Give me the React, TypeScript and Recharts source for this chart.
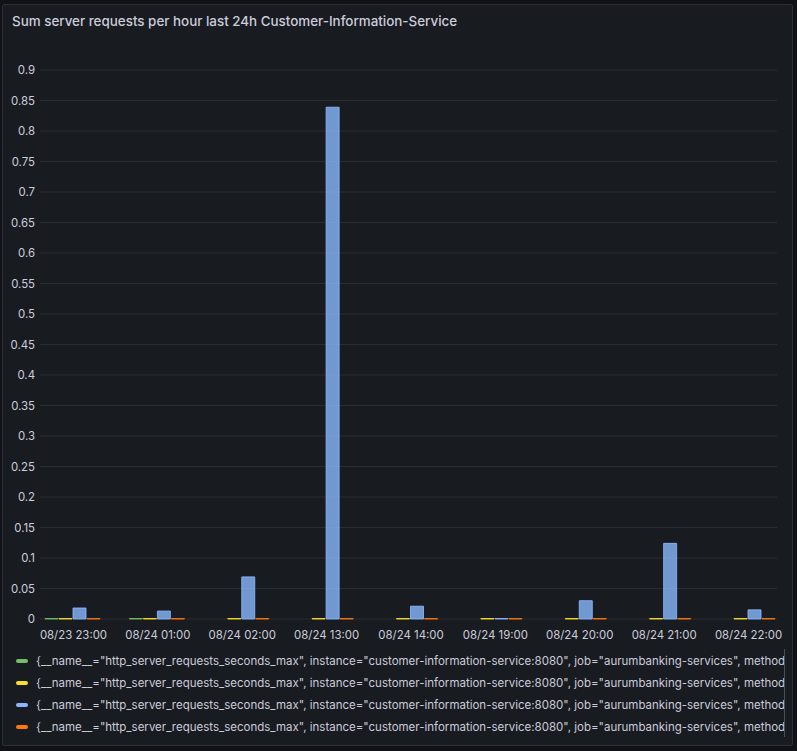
import { BarChart, Bar, XAxis, YAxis, CartesianGrid } from "recharts"

const categories = [
  "08/23 23:00",
  "08/24 01:00",
  "08/24 02:00",
  "08/24 13:00",
  "08/24 14:00",
  "08/24 19:00",
  "08/24 20:00",
  "08/24 21:00",
  "08/24 22:00",
]

// series values per category (null = no sample)
const greenValues = [0, 0, null, null, null, null, null, null, null]
const yellowValues = [0, 0, 0, 0, 0, 0, 0, 0, 0]
const blueValues = [0.018, 0.013, 0.069, 0.839, 0.021, 0, 0.03, 0.124, 0.015]
const orangeValues = [0, 0, 0, 0, 0, 0, 0, 0, 0]

const yTicks = [0, 0.05, 0.1, 0.15, 0.2, 0.25, 0.3, 0.35, 0.4, 0.45, 0.5, 0.55, 0.6, 0.65, 0.7, 0.75, 0.8, 0.85, 0.9]

// legend text as far as the panel shows it
const legendLabel =
  '{__name__="http_server_requests_seconds_max", instance="customer-information-service:8080", job="aurumbanking-services", method'

const series = [
  { key: "green", color: "#73BF69", values: greenValues },
  { key: "yellow", color: "#FADE2A", values: yellowValues },
  { key: "blue", color: "#8AB8FF", values: blueValues },
  { key: "orange", color: "#FF780A", values: orangeValues },
]

const data = categories.map((name, i) => {
  const row: any = { name }
  series.forEach((s) => {
    row[s.key] = s.values[i]
  })
  return row
})

const FONT = "Inter, 'Noto Sans', sans-serif"
const TEXT = "#ccccdc"

export default function App() {
  return (
    <div style={{ position: "fixed", left: 0, top: 0, width: 797, height: 751, background: "#111217", fontFamily: FONT }}>
      <div
        style={{
          position: "absolute",
          left: 2,
          top: 4,
          width: 789,
          height: 740,
          background: "#181b1f",
          border: "1px solid #2c2f35",
          borderRadius: 2,
        }}
      />
      <div style={{ position: "absolute", left: 12, top: 13, fontSize: 13.4, fontWeight: 500, color: TEXT, whiteSpace: "nowrap" }}>
        Sum server requests per hour last 24h Customer-Information-Service
      </div>
      <div style={{ position: "absolute", left: 0, top: 0 }}>
        <BarChart
          width={797}
          height={650}
          data={data}
          margin={{ top: 70, right: 20, bottom: 1, left: 0 }}
          barCategoryGap={13.7}
          barGap={1}
        >
          <CartesianGrid vertical={false} stroke="#2a2d32" />
          <XAxis
            dataKey="name"
            axisLine={false}
            tickLine={false}
            tickSize={0}
            tickMargin={12}
            height={30}
            interval={0}
            padding={{ left: -8.7, right: -13.7 }}
            tick={{ fill: TEXT, fontSize: 11.4, fontFamily: FONT }}
          />
          <YAxis
            width={40}
            domain={[0, 0.9]}
            ticks={yTicks}
            interval={0}
            axisLine={false}
            tickLine={false}
            tickSize={0}
            tickMargin={5}
            tick={{ fill: TEXT, fontSize: 11.4, fontFamily: FONT }}
          />
          {series.map((s) => (
            <Bar
              key={s.key}
              dataKey={s.key}
              fill={s.color}
              fillOpacity={0.8}
              stroke={s.color}
              strokeOpacity={0.85}
              strokeWidth={1}
              minPointSize={(v: any) => (v == null ? 0 : 0.5)}
              isAnimationActive={false}
            />
          ))}
        </BarChart>
      </div>
      <div style={{ position: "absolute", left: 0, top: 650, width: 783, height: 88 }}>
        {series.map((s, i) => (
          <div
            key={s.key}
            style={{
              position: "absolute",
              left: 0,
              top: i * 22,
              height: 22,
              display: "flex",
              alignItems: "center",
              whiteSpace: "nowrap",
            }}
          >
            <div style={{ marginLeft: 16, width: 12, height: 4, borderRadius: 2, background: s.color, flex: "none" }} />
            <span style={{ marginLeft: 8, fontSize: 11.5, color: TEXT }}>{legendLabel}</span>
          </div>
        ))}
      </div>
      <div style={{ position: "absolute", left: 784, top: 649, width: 1, height: 88, background: "#4a4d55" }} />
    </div>
  )
}
